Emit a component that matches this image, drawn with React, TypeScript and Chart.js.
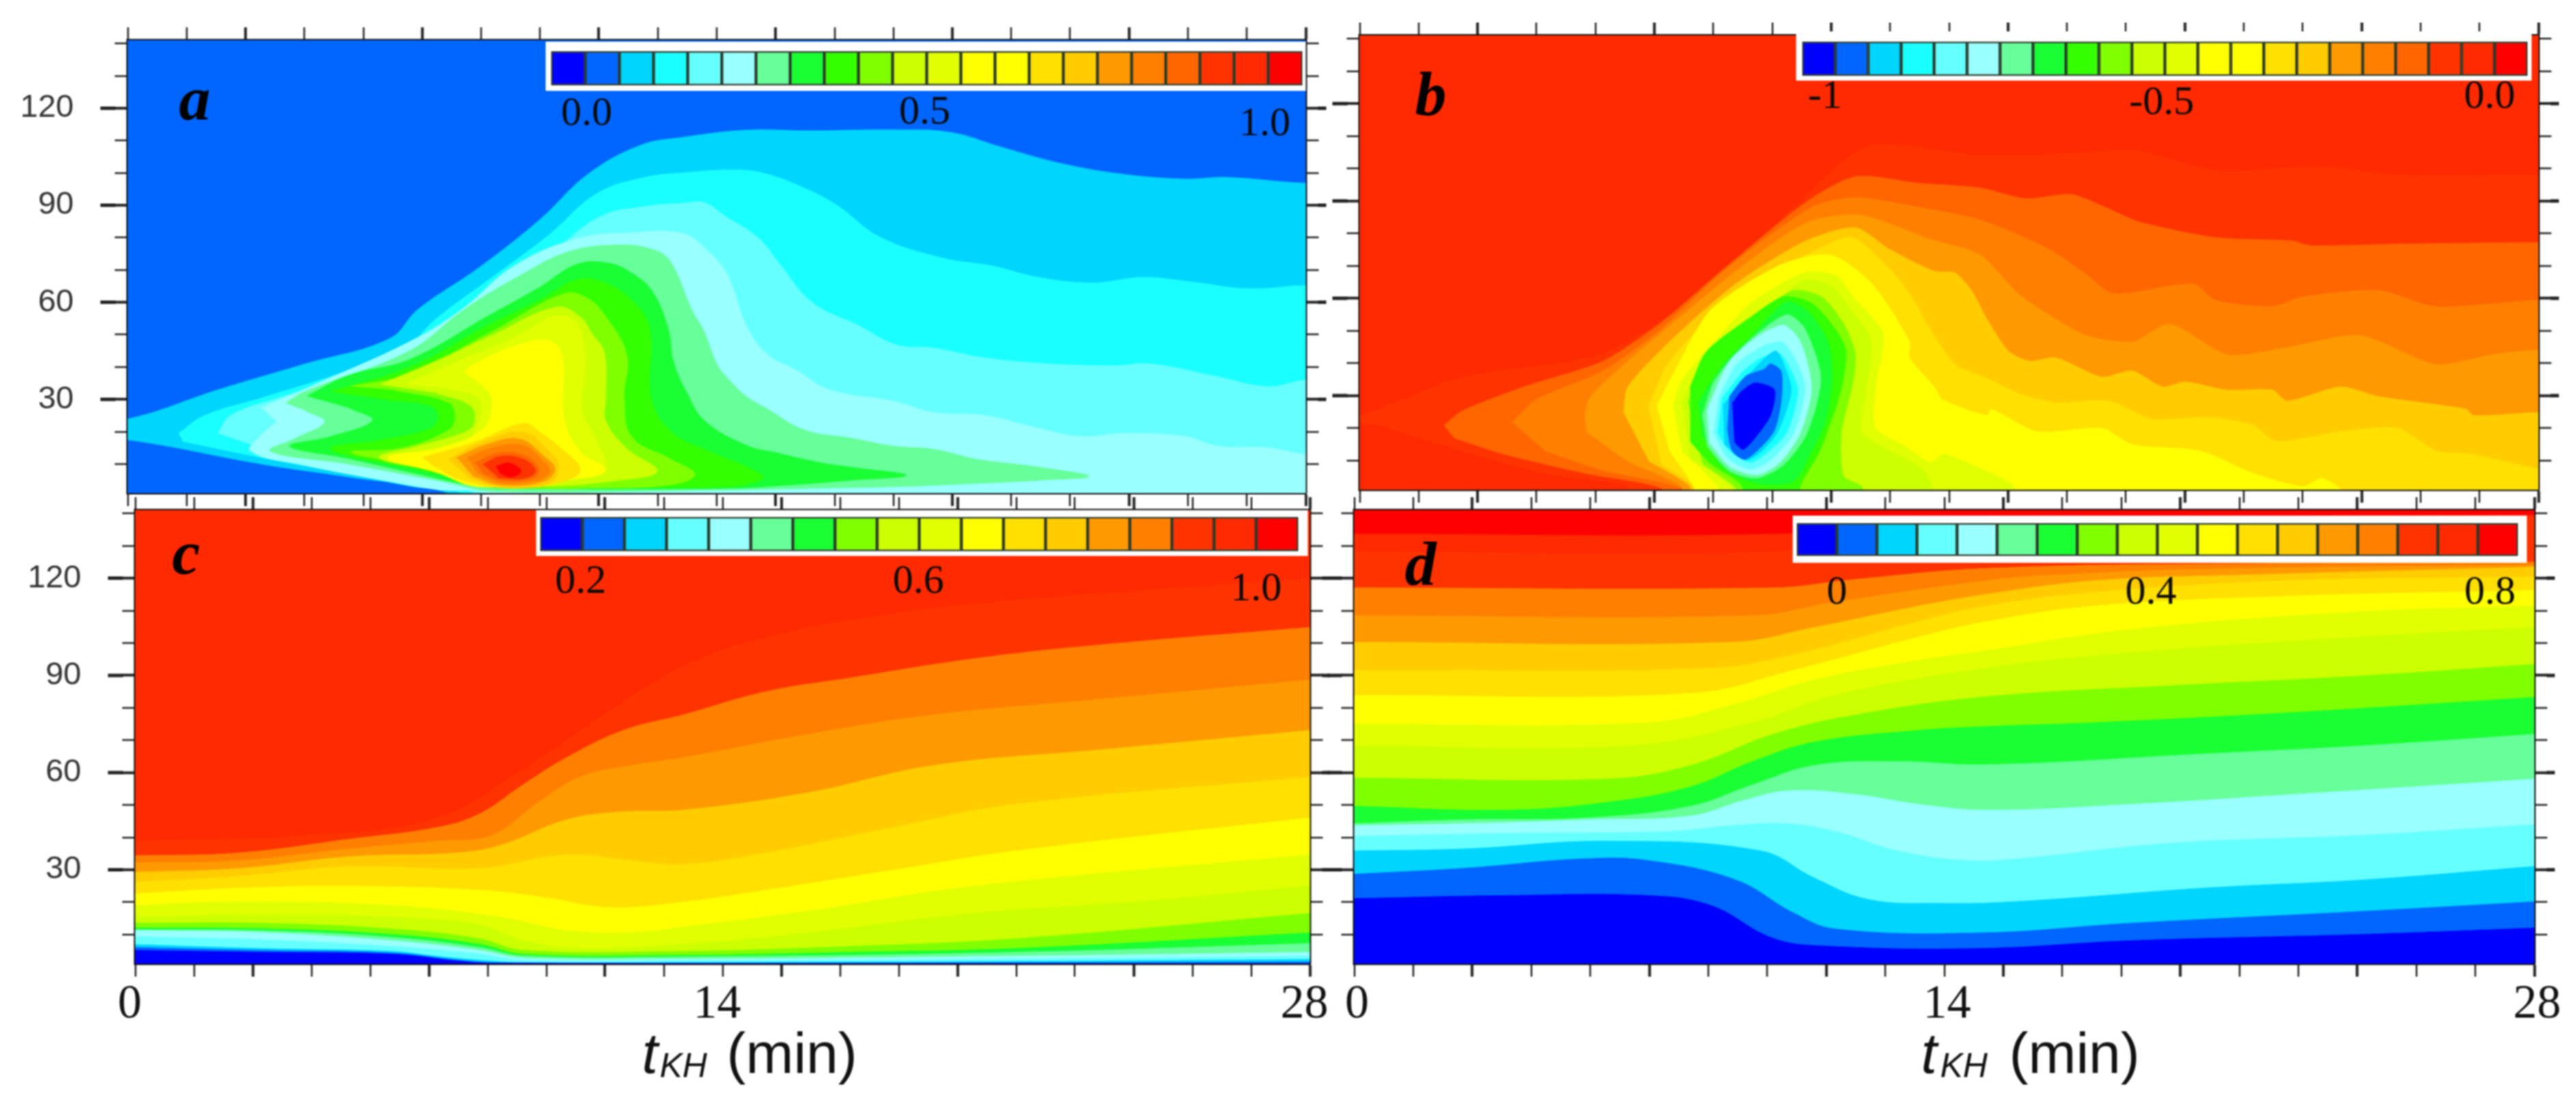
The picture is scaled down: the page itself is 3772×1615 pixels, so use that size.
import React, { useEffect, useRef } from "react";
import { Chart, registerables } from "chart.js";

Chart.register(...registerables);

// ---------- axes ----------
const TIME_TICKS = [0, 1.4, 2.8, 4.2, 5.6, 7, 8.4, 9.8, 11.2, 12.6, 14, 15.4, 16.8, 18.2, 19.6, 21, 22.4, 23.8, 25.2, 26.6, 28];
const TIME_MAJOR = [2.8, 7, 11.2, 15.4, 19.6, 23.8, 28];
const TIME_LABELS = [0, 14, 28];
const Z_TICKS = [10, 20, 30, 40, 50, 60, 70, 80, 90, 100, 110, 120, 130, 140];
const Z_MAJOR = [30, 60, 90, 120];
const Z_MIN = 1;
const Z_MAX = 141;

// ---------- colour bars ----------
const barA = ["#0000ff","#0066ff","#00d5ff","#19ffff","#66ffff","#99ffff","#66ff99","#19ff33","#33ff00","#80ff00","#ccff00","#e0ff00","#ffff00","#ffff00","#ffe000","#ffcc00","#ff9900","#ff8000","#ff6600","#ff3300","#ff2a00","#ff0000"];
const barC = ["#0000ff","#0066ff","#00d5ff","#66ffff","#99ffff","#66ff99","#19ff33","#80ff00","#ccff00","#e0ff00","#ffff00","#ffe000","#ffcc00","#ff9900","#ff8000","#ff3300","#ff2a00","#ff0000"];
const barLabelsA = ["0.0", "0.5", "1.0"];
const barLabelsB = ["-1", "-0.5", "0.0"];
const barLabelsC = ["0.2", "0.6", "1.0"];
const barLabelsD = ["0", "0.4", "0.8"];

// ---------- panel a: contour outlines (minutes, height), outermost first ----------
const a1 = [[-1,23.9],[0,23.9],[2.14,32.9],[4.21,40.9],[6.23,48.8],[6.9,57.8],[8.35,70.7],[9.8,85.6],[10.94,99.6],[12.18,108.5],[13.2,111],[14.7,113.2],[16.2,113],[18.2,113.3],[19.56,112.5],[20.75,108],[22.15,103],[23.64,99.6],[25.13,98.1],[26.12,98.6],[28,96.8],[30,96.8],[30,-4],[7.63,-4],[7.63,1],[5.25,6],[3.18,10],[0,17.5],[-1,17.5]];
const a2 = [[1.21,19.5],[1.83,25],[3.18,30.4],[5.25,38.9],[6.6,45.8],[7.32,54.8],[8.66,67.7],[10,80.7],[11.15,93.6],[12.29,98.6],[13.2,100],[14.5,100.9],[15.2,99.6],[16.2,94.6],[16.9,89.6],[17.87,80.2],[19.36,73.7],[20.56,71.2],[21.65,67.7],[22.94,66],[24.13,67.7],[25.33,66.2],[26.62,64.2],[28,65.2],[30,65.2],[30,-4],[7.94,-4],[7.94,1],[6.8,3],[5.25,7],[3.18,12],[1.31,17]];
const a3 = [[2.14,19.5],[2.45,25],[3.59,30.4],[5.56,38.4],[7.11,47.8],[8.87,64.7],[10.2,76.7],[11.25,86.6],[12.29,89.6],[13.2,90.6],[13.7,90.8],[14.2,86.6],[15,79.7],[15.5,71.7],[16.28,59.8],[17.37,52.8],[18.27,46.8],[19.16,45.8],[20.36,42.8],[21.95,40.9],[23.44,40.4],[24.33,40.9],[25.92,36.9],[27.1,33.9],[28,35.9],[30,35.9],[30,-4],[8.25,-4],[8.25,1],[6.8,5],[5.25,9.6],[3.39,14]];
const a4 = [[3.18,27.4],[4.42,34.4],[6.7,47.8],[7.94,57.8],[9.18,71.2],[10.67,79.6],[11.98,81.5],[13.2,81.2],[13.8,75.7],[14.2,69.7],[14.4,63.7],[14.7,52.8],[15.2,43.9],[15.9,38.9],[16.68,32.9],[18.2,29.4],[19.16,25.9],[20.36,25],[21.65,21],[22.64,18.5],[23.74,19.5],[25.13,18.5],[25.92,15.5],[27.1,15],[28,13],[30,13],[30,-4],[8.56,-4],[8.56,1],[7.42,2],[6.28,4.5],[4.21,9.6],[2.92,14],[3.18,19],[3.54,23]];
const a5 = [[3.75,28.8],[4.21,32.4],[6.7,45],[8,57.8],[9.4,68.8],[10.5,75.7],[11.67,77.7],[12.5,76.2],[12.9,72.5],[13.4,57.8],[13.7,50.8],[14,40.9],[14.3,35.9],[14.7,30.9],[15.2,27],[16.08,20.5],[17.18,18],[18.2,15.5],[19.16,14.5],[20.16,11.5],[21.65,9],[22.84,6.2],[21.65,5],[20.16,4],[18.2,3],[16.2,2.5],[14.2,2],[8.77,1.5],[7.32,5],[5.25,10],[3.39,14],[4,18],[4.68,23],[4.21,26.6]];
const a6 = [[4.26,31],[5.25,37.4],[6.7,42.3],[8.56,55.7],[9.8,64.7],[10.67,71.7],[11.42,72.1],[11.98,69],[12.47,63.3],[12.85,51.5],[12.97,41.6],[13.3,31.7],[13.72,23.2],[14.73,15.6],[15.4,13.5],[16.45,10.4],[17.18,9],[18.5,6.5],[17.18,5],[15.7,3.5],[14.2,2.5],[9.39,2.4],[8.35,3.1],[6.8,7.2],[5.25,11.7],[3.85,15.5],[4.83,18.5],[5.82,23.5],[5.25,27.4]];
const a7 = [[4.83,32.4],[6.7,39.9],[8.56,52.8],[9.8,60.7],[10.67,66.9],[11.3,66.2],[11.98,60.6],[12.41,51.5],[12.44,30.4],[12.92,19.9],[13.72,14.4],[14.77,8.7],[15.1,5.6],[14.2,3],[9.9,3.5],[8.35,4.7],[6.8,8.6],[4.83,14.6],[6.08,17.5],[7.2,21],[7.38,24.7],[7.2,28],[6.08,30]];
const a8 = [[5.3,34],[6.7,37.9],[8.66,51],[10.36,62.6],[10.92,61.3],[11.36,55.6],[11.86,43.7],[11.8,30.4],[11.98,18.4],[12.92,11.4],[13.48,6.8],[12.92,3.6],[11.05,2.6],[9.4,2.9],[8.35,6],[6.8,9.7],[5.3,13.7],[6.49,14.9],[7.63,20.5],[7.78,24.4],[7.63,29],[6.28,33]];
const a9 = [[6,34.6],[7.32,41.8],[8.66,49.8],[10.18,58.5],[10.74,55.6],[11.05,50],[11.33,44.3],[11.36,30.4],[11.36,23.4],[11.86,14.8],[12.58,7.8],[11.67,5],[9.8,3.2],[8.35,5],[7.32,8],[5.97,12],[6.9,15.5],[8.04,20],[8.25,23],[8.15,28],[7.32,32]];
const a10 = [[6.6,34.6],[7.84,41.8],[8.97,47.8],[9.8,53.6],[10.06,55.6],[10.55,54.9],[10.8,50],[10.86,37.4],[10.8,26.8],[11.17,16.3],[11.33,8.5],[10.43,5],[9.18,3.2],[7.1,8.4],[6.5,11.4],[7.84,15],[8.3,21.6],[8.35,30],[7.63,33.2]];
const a11 = [[7.99,38.5],[8.25,41],[9.18,46.3],[9.96,48.3],[10.32,43.8],[10.37,24],[10.74,14],[11.36,8],[10.42,5],[8.35,3],[7.32,7.5],[6.18,12],[7.42,15],[8.46,21],[8.66,30],[8.46,34]];
const a12 = [[7,12],[8.26,16.8],[9.4,22.5],[9.8,19.8],[10.37,14],[10.75,8.4],[10.44,5],[9.2,2.5],[7.95,5],[7.3,9.2]];
const a13 = [[7.63,11.5],[8.44,16.8],[9.4,19.8],[10,14],[10.24,9.2],[10,4],[8.88,2.9],[8.13,5.6]];
const a14 = [[7.82,12],[8.57,16.2],[9.32,17.7],[9.87,12.6],[10.15,8.4],[9.87,4.6],[8.88,3.5],[8.2,6.3]];
const a15 = [[8.07,12],[8.69,15.1],[9.38,15.8],[9.84,11.3],[10.03,7.8],[9.76,5],[8.88,4.2],[8.31,7.1]];
const a16 = [[8.26,10.5],[8.82,13.4],[9.43,12.6],[9.77,8.4],[9.63,5.6],[8.88,5],[8.44,7.1]];
const a17 = [[8.44,9.9],[8.88,12.4],[9.43,11.3],[9.69,7.8],[9.43,5.6],[8.82,5.6]];
const a18 = [[8.75,9.2],[9.06,10.3],[9.35,7.8],[9.12,6],[8.85,7.1]];
const aColors = ["#00d5ff","#19ffff","#66ffff","#99ffff","#66ff99","#19ff33","#33ff00","#80ff00","#ccff00","#e0ff00","#ffff00","#ffe000","#ffcc00","#ff9900","#ff8000","#ff6600","#ff3300","#ff0000"];

// ---------- panel b ----------
const b1 = [[-1,23],[0,23.8],[2.44,35.7],[5.78,43],[8.34,63.9],[10.3,88.1],[12.07,106.9],[14.74,104.1],[17.26,104.9],[18.35,105.9],[20.33,99.5],[22.86,100.5],[24.66,98],[28,98],[30,98],[30,-4],[6.37,-4],[6.37,2],[4.4,6],[2.44,12.9],[0.47,20.8]];
const b2 = [[2,20.8],[2.44,25.3],[3.9,32.7],[5.78,40.6],[7.16,52.5],[8.58,68.3],[10.6,89.6],[11.78,97.5],[13.25,95.5],[14.74,94],[15.82,90.7],[16.9,92],[17.7,88.1],[18.5,83.6],[20.33,78.7],[22.13,77.7],[22.6,76.2],[24.66,76.7],[28,77.2],[30,77.2],[30,-4],[7.16,-4],[7.16,1.5],[5.39,6],[3.42,12],[2.24,17]];
const b3 = [[3.62,21.8],[4.2,28.8],[5.78,37.6],[7.16,50.5],[8.73,69.3],[10.75,88.1],[11.78,91],[13.25,88.1],[14.74,84.1],[16.36,75.2],[17.26,67.3],[17.9,61.4],[19.79,64.4],[20.33,59.4],[21.68,57.4],[22.4,60.4],[24.2,62.4],[25.56,57.4],[28,59.4],[30,59.4],[30,-4],[7.65,-4],[7.65,1.5],[5.78,7],[4.4,13]];
const b4 = [[5.34,23.8],[5.48,29.7],[6.37,40.6],[7.55,53.5],[8.93,68.3],[10.6,83.2],[11.88,85.6],[13.55,78.2],[14.74,73.3],[15.64,61.4],[16.54,53.5],[17.26,48.5],[18.35,46.5],[19.25,52],[20.6,42.6],[21.95,44.6],[23.76,48.5],[25.56,39.6],[26.91,42.6],[28,44.1],[30,44.1],[30,-4],[7.65,-4],[7.65,2],[6.37,9.9],[5.39,18.9]];
const b5 = [[6.27,24.8],[6.37,32.7],[7.36,46.6],[8.93,64.4],[10.6,77.7],[11.78,81.7],[12.57,75.2],[13.65,68.3],[14.14,67.8],[14.53,62.4],[14.9,53.5],[15.42,43.6],[15.91,40.6],[16.54,41.6],[17.63,35.7],[18.35,37.6],[19.07,32.7],[19.61,34.2],[20.6,31.7],[21.68,31.7],[22.04,28.3],[23.3,32.7],[24.2,29.7],[26.28,25.8],[26.46,23.8],[28,24.8],[30,24.8],[30,-4],[7.85,-4],[7.85,2],[6.86,9.9]];
const b6 = [[6.86,26.8],[7.36,40.6],[9.03,62.4],[10.6,73.3],[11.68,78.7],[12.57,69.3],[13.16,59.4],[13.45,52.5],[14.14,39.6],[14.83,35.7],[15,34.7],[15.64,30.7],[16.54,27.8],[17.8,28.3],[18.8,22.8],[20.15,23.3],[21.23,20.8],[21.77,15.9],[23.3,18.9],[24.66,19.9],[25.56,13],[26.37,12],[27.1,10],[28,7.5],[30,7.5],[30,-4],[7.95,-4],[7.95,2],[7.16,9]];
const b7 = [[7.06,26.8],[7.45,36.7],[8.34,56.4],[10,70.3],[11.19,73.3],[12.17,64.4],[13.06,46.6],[13.06,41.6],[13.65,32.7],[13.84,28.8],[14.9,23.8],[15,25.8],[16.09,18.9],[17.63,19.9],[18.35,14.9],[19.97,12.9],[21.23,6],[22.4,2],[22.86,4.5],[23.3,1],[23.3,-4],[7.95,-4],[7.95,1.5],[7.36,13]];
const b8 = [[7.45,26.8],[7.65,34.7],[8.83,52.5],[9.28,58.4],[10.14,65.4],[10.68,68.1],[11.33,66.8],[11.71,60.5],[12.42,49.2],[12.25,32.4],[12.25,19.9],[12.95,14.4],[13.55,9.4],[13.87,11.9],[14.63,8.1],[15.5,2.5],[15.6,-4],[8.53,-4],[8.53,1.5],[7.65,12.9]];
const b9 = [[7.65,27.8],[7.95,34.7],[9.32,51.5],[10.52,65.4],[11.17,63.9],[11.6,57.6],[12.14,47.1],[12.03,32.4],[11.93,18.6],[12.58,13],[13.39,6.7],[13.65,-4],[8.83,-4],[8.83,1.5],[7.85,11]];
const b10 = [[7.8,27.8],[8.14,39.6],[8.83,48.5],[10.25,62.2],[10.96,60.5],[11.49,52.2],[11.77,42.9],[11.71,33.9],[11.44,18.6],[11.49,5.2],[11.93,1.8],[11.93,-4],[8.93,-4],[8.93,1.5],[8.14,9]];
const b11 = [[7.85,32.7],[8.24,43.6],[9.32,54.5],[10.08,60.5],[10.74,58.4],[11.28,50.7],[11.55,43.8],[11.44,32.4],[11.17,21.3],[10.9,12.3],[10.47,2.5],[10.4,-4],[9.32,-4],[9.03,3],[8.34,9],[7.85,15.9]];
const b12 = [[8.04,27.8],[8.63,39.6],[9.32,48.5],[10.14,59],[10.68,55.5],[11.12,46.5],[11.22,36],[11.06,22],[10.68,11.5],[10.3,3.5],[9.42,3],[8.63,7.9],[8.14,17.9]];
const b13 = [[8.14,23.8],[8.43,34.7],[9.22,46.6],[10.14,54.9],[10.57,50.7],[10.95,35.4],[10.63,18.6],[10.08,8.8],[9.44,4.6],[8.79,6.7],[8.25,14.4]];
const b14 = [[8.25,25.5],[8.79,40.8],[9.5,48.6],[10.08,51.7],[10.47,46.5],[10.73,32.4],[10.47,18.6],[9.98,9.4],[9.44,5.6],[8.79,8.1],[8.3,15.7]];
const b15 = [[8.52,29.1],[8.95,39.6],[9.55,45],[10.03,46.5],[10.36,40.8],[10.57,32.4],[10.31,18.6],[9.76,10.2],[9.28,7.3],[8.74,10.8],[8.41,18.6]];
const b16 = [[8.6,29.1],[9.11,37.5],[9.55,41.7],[9.98,42.9],[10.25,37.5],[10.41,31.2],[10.14,18.6],[9.66,12.3],[9.28,9.4],[8.79,12.9],[8.5,18.6]];
const b17 = [[8.63,27],[9.17,35.4],[9.87,43.8],[10.12,38.1],[10.25,31.2],[9.92,18.6],[9.5,12.3],[9.17,10.2],[8.66,15]];
const b18 = [[8.78,29.7],[9.17,36],[9.6,38.1],[9.76,39.8],[10.01,37.5],[10.01,28.3],[9.82,18.6],[9.17,10.4],[8.85,12.9],[8.73,19.9]];
const b19 = [[8.85,27.6],[9.06,31.2],[9.39,33.9],[9.85,31.8],[9.76,24],[9.44,17.8],[9.11,13.4],[8.9,15.7]];
const bColors = ["#ff3300","#ff6600","#ff8000","#ff9900","#ffcc00","#ffe000","#ffff00","#e0ff00","#ccff00","#80ff00","#33ff00","#19ff33","#66ff99","#99ffff","#66ffff","#19ffff","#00d5ff","#0066ff","#0000ff"];

// ---------- panel c: band boundaries, top to bottom ----------
const c1 = [[0,38.8],[4.05,40.6],[7.17,46],[9.24,61],[11.3,79],[13.06,92.8],[15.05,101.8],[18.04,109],[21,113.2],[24,116.2],[28,119.8]];
const c2 = [[0,34.3],[2.49,35.2],[5.09,39.4],[7.17,43],[8.2,47.2],[9.24,56.2],[10.28,64.6],[11.63,73],[13.06,77.8],[15.05,85],[17.04,89.2],[20.03,95.2],[23,99.4],[28,104.8]];
const c3 = [[0,32.1],[2.49,32.8],[5.09,36.4],[7.17,38.8],[8.5,40.6],[9.55,50.2],[10.6,58.6],[11.84,62.2],[13.06,64.6],[16.05,71.8],[19.04,77.8],[23,82.6],[28,88.6]];
const c4 = [[0,29.2],[2.49,30.4],[5.09,34],[7.68,35.2],[8.72,37.6],[10.28,45.4],[11.53,47.8],[13.06,48.4],[16.05,53.8],[19.04,62.2],[23,67],[28,73]];
const c5 = [[0,26.2],[2.49,28],[5.09,31],[8.2,30.4],[10.28,34.6],[11.84,32.8],[13.06,31.6],[15.05,35.2],[18.04,43],[21,50.2],[28,58.6]];
const c6 = [[0,22.6],[2.49,24.3],[5.09,24.9],[8.2,23.7],[9.76,21.4],[11.32,18.3],[13.06,20],[15.05,23.7],[18.04,29.8],[21,35.8],[28,46]];
const c7 = [[0,18.9],[2.49,20.1],[6.13,18.9],[8.72,15.3],[10.28,11.2],[11.84,10.6],[13.06,12.3],[16.05,17.2],[20,24.9],[28,34.6]];
const c8 = [[0,15.3],[3,15.9],[6.13,15.3],[8.2,12.9],[9.24,8.1],[10.49,5.7],[13.06,6.9],[16.05,10.5],[20,16.5],[24,20.2],[28,25]];
const c9 = [[0,13.5],[3,13.5],[6.13,11.7],[8.2,8.7],[9.24,5.1],[13.06,4.8],[17,6.3],[21,8.7],[28,16.5]];
const c10 = [[0,12],[3,11.8],[6.13,10],[8.2,7],[9.24,3.9],[13.06,3.6],[17,4.5],[21,5.7],[28,10.5]];
const c11 = [[0,11.5],[3,11.2],[6.13,9.1],[8.2,6],[9.24,3.4],[13.06,3.1],[21,4.5],[28,7.2]];
const c12 = [[0,11.2],[3,10.6],[6.13,8.1],[8.2,5.1],[9.24,2.7],[13.06,2.4],[21,3.3],[28,4.5]];
const c13 = [[0,9.3],[3,8.4],[6.13,6.3],[8.2,4],[9.24,2.1],[13.06,1.9],[21,2.4],[28,3.3]];
const c14 = [[0,6.9],[3,5.7],[6.13,4.8],[7.17,3.3],[8.2,2.1],[9.24,1.3],[13.06,1.4],[21,1.7],[28,2.3]];
const c15 = [[0,6],[3,5.1],[6.13,4.3],[7.7,2.1],[8.72,1.2],[13,1.1],[28,1.5]];
const c16 = [[0,5.1],[3,4.5],[6.13,3.9],[7.7,1.8],[8.5,1.2],[28,1]];
const cColors = ["#ff3300","#ff8000","#ff9900","#ffcc00","#ffe000","#ffff00","#e0ff00","#ccff00","#80ff00","#19ff33","#66ff99","#99ffff","#66ffff","#00d5ff","#0066ff","#0000ff"];

// ---------- panel d ----------
const d1 = [[0,133.6],[10,133.6],[13,137],[15,138.5],[28,139.5]];
const d2 = [[0,128.2],[10,128.2],[13,133],[28,138.8]];
const d3 = [[0,117],[9.94,117],[11.8,119.5],[15,123],[21,124.5],[28,125]];
const d4 = [[0,108.4],[9.45,108.4],[11.41,112.6],[15,119.2],[16.66,121],[20.3,122.8],[28,124]];
const d5 = [[0,100.2],[8.96,100.2],[10.92,104.8],[13.4,111.4],[15,115],[17.56,119.2],[21.2,121],[28,123.4]];
const d6 = [[0,91.6],[8.47,92.2],[10.43,96.4],[13.38,106.6],[15,111.4],[17.56,115.6],[22,119.2],[28,120.4]];
const d7 = [[0,83.8],[7.98,84.4],[10.43,91.6],[13.38,101.8],[15,106.6],[17.56,111.4],[22.1,114.4],[28,116.2]];
const d8 = [[0,74.8],[7,75.4],[8.96,80.8],[10.92,88.6],[13.38,94.6],[15,97.6],[18.46,104.2],[23.87,109.6],[28,111.4]];
const d9 = [[0,68.2],[6.5,68.2],[9.45,75.4],[11.41,83.8],[15,92.2],[18.46,97],[23.87,101.8],[28,104.8]];
const d10 = [[0,58.3],[6,58],[7.98,62.2],[9.94,71.8],[11.9,77.8],[15,83.4],[19.4,86.8],[23.87,89.8],[28,93.4]];
const d11 = [[0,49.6],[3.56,48.4],[6,50.8],[7.98,55.6],[9.45,63.4],[10.92,69.4],[13.38,73],[15,74.2],[17.56,75.4],[22.1,78.4],[28,83.2]];
const d12 = [[0,44.2],[2.57,45.4],[5.52,46],[7.98,49.6],[9.45,56.2],[10.92,62.2],[12.89,63.4],[15,62.4],[20.26,65.8],[23.87,68.2],[28,71.8]];
const d13 = [[0,43.6],[2.57,44.2],[5.52,45.4],[7.98,46.6],[9.25,51.4],[10.33,54.4],[11.9,53.2],[13.38,50.2],[15,48.4],[18.46,50.2],[22.97,53.8],[28,58]];
const d14 = [[0,40.3],[3.56,41.2],[7.49,41.8],[8.96,43.6],[10.24,44.2],[11.41,41.8],[12.89,35.8],[14.56,32.8],[15.76,33.4],[19.4,38.2],[23.87,40.6],[28,43.9]];
const d15 = [[0,35.8],[2.57,36.4],[6,38.8],[9.65,35.8],[10.92,27.4],[12.2,20.8],[13.87,19.6],[15.76,20.2],[20.26,24.4],[23.87,26.8],[28,31]];
const d16 = [[0,28.6],[2.57,30.4],[5.52,33.4],[6.99,32.8],[9.06,26.8],[10.43,16.6],[11.41,11.7],[14.86,10.5],[18.46,13.5],[23.87,17.1],[28,20.1]];
const d17 = [[0,21.1],[3.56,22],[6.99,22],[8.47,18.9],[9.94,8.8],[11.22,6.4],[14.86,5.7],[18.46,8.1],[23.87,10],[28,12]];
const dColors = ["#ff2a00","#ff3300","#ff8000","#ff9900","#ffcc00","#ffe000","#ffff00","#e0ff00","#ccff00","#80ff00","#19ff33","#66ff99","#99ffff","#66ffff","#00d5ff","#0066ff","#0000ff"];

const topLine = [[0, 141], [28, 141]];

// ---------- layout and styling of each panel ----------
const SERIF = '"Liberation Serif"';
const SANS = '"Liberation Sans"';
const INK = "#141414";

type PanelSpec = {
  letter: string; letterX: number; letterY: number;
  rect: number[]; marginLeft: number; marginBottom: number;
  background: string; lines: number[][][]; colors: string[]; fill: string; tension: number;
  zLabels: boolean; timeLabels: boolean; labelShift: number; titleX?: number[];
};
const panels: PanelSpec[] = [
  { letter: "a", letterX: 75, letterY: 116, rect: [187, 59, 1912, 722], marginLeft: 187, marginBottom: 40, background: "#0066ff", fill: "shape", tension: 0.4,
    lines: [a1,a2,a3,a4,a5,a6,a7,a8,a9,a10,a11,a12,a13,a14,a15,a16,a17,a18], colors: aColors, zLabels: true, timeLabels: false, labelShift: 0 },
  { letter: "b", letterX: 81, letterY: 116, rect: [1991, 52, 3717, 717], marginLeft: 60, marginBottom: 40, background: "#ff2a00", fill: "shape", tension: 0.25,
    lines: [b1,b2,b3,b4,b5,b6,b7,b8,b9,b10,b11,b12,b13,b14,b15,b16,b17,b18,b19], colors: bColors, zLabels: false, timeLabels: false, labelShift: 0 },
  { letter: "c", letterX: 54, letterY: 93, rect: [198, 747, 1918, 1411], marginLeft: 198, marginBottom: 200, background: "#ff2a00", fill: "start", tension: 0.4,
    lines: [c1,c2,c3,c4,c5,c6,c7,c8,c9,c10,c11,c12,c13,c14,c15,c16], colors: cColors, zLabels: true, timeLabels: true, labelShift: -8, titleX: [742, 768, 866] },
  { letter: "d", letterX: 74, letterY: 109, rect: [1983, 747, 3711, 1411], marginLeft: 60, marginBottom: 200, background: "#ff0000", fill: "start", tension: 0.4,
    lines: [d1,d2,d3,d4,d5,d6,d7,d8,d9,d10,d11,d12,d13,d14,d15,d16,d17], colors: dColors, zLabels: false, timeLabels: true, labelShift: 4, titleX: [830, 858, 959] },
];

type BarSpec = {
  colors: string[]; labels: string[]; labelAt: number[]; labelDrop: number[];
  frame: number[]; swatches: number[];
};
const bars: BarSpec[] = [
  { colors: barA, labels: barLabelsA, labelAt: [0.54, 10.44, 20.4], labelDrop: [42, 40, 57], frame: [799, 61, 1912, 133], swatches: [807, 75, 1907, 125] },
  { colors: barA, labels: barLabelsB, labelAt: [0.19, 10.4, 20.35], labelDrop: [31, 40, 31], frame: [2630, 46, 3707, 118], swatches: [2639, 61, 3701, 111] },
  { colors: barC, labels: barLabelsC, labelAt: [0.46, 8.48, 16.5], labelDrop: [45, 45, 56], frame: [785, 747, 1915, 814], swatches: [791, 757, 1901, 807] },
  { colors: barC, labels: barLabelsD, labelAt: [0.5, 8.34, 16.8], labelDrop: [54, 54, 54], frame: [2625, 755, 3700, 824], swatches: [2631, 766, 3687, 814] },
];

function Panel({ spec }: { spec: PanelSpec }) {
  const ref = useRef<HTMLCanvasElement>(null);
  const [L, T, R, B] = spec.rect;
  const marginTop = 40, marginRight = 60;
  const width = spec.marginLeft + (R - L) + marginRight;
  const height = marginTop + (B - T) + spec.marginBottom;
  useEffect(() => {
    const toPoints = (line: number[][]) => line.map(([x, y]) => ({ x, y }));
    const bands = spec.lines.map((line, i) => ({
      data: toPoints(line), backgroundColor: spec.colors[i], borderColor: spec.colors[i],
      borderWidth: 1, fill: spec.fill, tension: spec.tension, showLine: true, pointRadius: 0,
    }));
    const base = {
      data: toPoints(topLine), backgroundColor: spec.background, borderColor: spec.background,
      borderWidth: 1, fill: "start", tension: 0, showLine: true, pointRadius: 0,
    };
    const datasets = [...bands.reverse(), base];

    const border = { display: true, color: INK, width: 4 };
    const clearPadding = (s: any) => { s.paddingTop = 0; s.paddingBottom = 0; s.paddingLeft = 0; s.paddingRight = 0; };
    const xAxis = (position: string, size: number, showLabels: boolean) => ({
      type: "linear", position, min: 0, max: 28,
      border,
      grid: {
        drawOnChartArea: false, tickLength: 19, tickColor: "#222",
        tickWidth: (c: any) => (TIME_MAJOR.includes(c.tick?.value) ? 4 : 2.5),
      },
      afterBuildTicks: (s: any) => { s.ticks = TIME_TICKS.map((value) => ({ value })); },
      afterFit: (s: any) => { s.height = size; clearPadding(s); },
      ticks: {
        display: showLabels, autoSkip: false, maxRotation: 0, padding: 0, color: "#111",
        labelOffset: spec.labelShift,
        font: { family: SERIF, size: 70 },
        callback: (v: number) => (TIME_LABELS.includes(v) ? String(v) : ""),
      },
    });
    const zAxis = (position: string, size: number, showLabels: boolean) => ({
      type: "linear", position, min: Z_MIN, max: Z_MAX,
      border,
      grid: {
        drawOnChartArea: false, tickLength: 19, tickColor: "#222",
        tickWidth: (c: any) => (Z_MAJOR.includes(c.tick?.value) ? 4 : 2.5),
      },
      afterBuildTicks: (s: any) => { s.ticks = Z_TICKS.map((value) => ({ value })); },
      afterFit: (s: any) => { s.width = size; clearPadding(s); },
      ticks: {
        display: showLabels, autoSkip: false, padding: 60, color: "#333",
        font: { family: SANS, size: 47 },
        callback: (v: number) => (Z_MAJOR.includes(v) ? String(v) : ""),
      },
    });

    const decorations = {
      id: "decorations",
      afterDraw(chart: any) {
        const { ctx, chartArea, scales } = chart;
        ctx.save();
        // longer major ticks on both height axes
        ctx.strokeStyle = "#222";
        ctx.lineWidth = 5;
        for (const v of Z_MAJOR) {
          const y = scales.y.getPixelForValue(v);
          ctx.beginPath();
          ctx.moveTo(chartArea.left - 40, y); ctx.lineTo(chartArea.left - 18, y);
          ctx.moveTo(chartArea.right + 18, y); ctx.lineTo(chartArea.right + 30, y);
          ctx.stroke();
        }
        // panel letter
        ctx.fillStyle = "#000";
        ctx.font = `italic bold 92px ${SERIF}`;
        ctx.textBaseline = "alphabetic";
        ctx.textAlign = "left";
        ctx.fillText(spec.letter, chartArea.left + spec.letterX, chartArea.top + spec.letterY);
        // axis title with subscript
        if (spec.titleX) {
          const baseline = chartArea.bottom + 160;
          ctx.fillStyle = "#111";
          ctx.font = `italic 84px ${SANS}`;
          ctx.fillText("t", chartArea.left + spec.titleX[0], baseline);
          ctx.font = `italic 50px ${SANS}`;
          ctx.fillText("KH", chartArea.left + spec.titleX[1], baseline + 6);
          ctx.font = `84px ${SANS}`;
          ctx.fillText("(min)", chartArea.left + spec.titleX[2], baseline);
        }
        ctx.restore();
      },
    };

    const chart = new Chart(ref.current as HTMLCanvasElement, {
      type: "scatter",
      data: { datasets },
      options: {
        animation: false, responsive: false, devicePixelRatio: 1,
        layout: { padding: 0, autoPadding: false },
        plugins: { legend: { display: false }, tooltip: { enabled: false }, title: { display: false } },
        scales: {
          x: xAxis("bottom", spec.marginBottom, spec.timeLabels),
          x2: xAxis("top", marginTop, false),
          y: zAxis("left", spec.marginLeft, spec.zLabels),
          y2: zAxis("right", marginRight, false),
        },
      },
      plugins: [decorations],
    } as any);
    return () => chart.destroy();
  }, []);
  return (
    <canvas ref={ref} width={width} height={height}
      style={{ position: "absolute", left: L - spec.marginLeft, top: T - marginTop, width, height }} />
  );
}

function ColorBar({ spec }: { spec: BarSpec }) {
  const ref = useRef<HTMLCanvasElement>(null);
  const [fL, fT, fR, fB] = spec.frame;
  const [sL, sT, sR, sB] = spec.swatches;
  const width = fR - fL;
  const height = sB - fT + 90;
  useEffect(() => {
    const frame = {
      id: "frame",
      beforeDraw(chart: any) {
        const { ctx } = chart;
        ctx.save();
        ctx.fillStyle = "#ffffff";
        ctx.fillRect(0, 0, width, fB - fT);
        ctx.restore();
      },
      afterDraw(chart: any) {
        const { ctx, chartArea, scales } = chart;
        ctx.save();
        ctx.fillStyle = "#0a0a0a";
        ctx.font = `60px ${SERIF}`;
        ctx.textAlign = "center";
        ctx.textBaseline = "middle";
        spec.labels.forEach((text, i) => {
          ctx.fillText(text, scales.x.getPixelForValue(spec.labelAt[i]), chartArea.bottom + spec.labelDrop[i]);
        });
        ctx.restore();
      },
    };
    const chart = new Chart(ref.current as HTMLCanvasElement, {
      type: "bar",
      data: {
        labels: spec.colors.map((_, i) => String(i)),
        datasets: [{
          data: spec.colors.map(() => 1), backgroundColor: spec.colors,
          borderColor: "#2b3a2b", borderWidth: 2.5, borderSkipped: false,
          barPercentage: 1, categoryPercentage: 1,
        }],
      },
      options: {
        animation: false, responsive: false, devicePixelRatio: 1,
        layout: { padding: { left: sL - fL, right: fR - sR, top: sT - fT, bottom: height - (sB - fT) }, autoPadding: false },
        plugins: { legend: { display: false }, tooltip: { enabled: false } },
        scales: {
          x: { type: "category", display: false },
          y: { type: "linear", display: false, min: 0, max: 1 },
        },
      },
      plugins: [frame],
    } as any);
    return () => chart.destroy();
  }, []);
  return (
    <canvas ref={ref} width={width} height={height}
      style={{ position: "absolute", left: fL, top: fT, width, height }} />
  );
}

export default function App() {
  return (
    <div style={{ position: "absolute", left: 0, top: 0, width: 3772, height: 1615, background: "#fff", overflow: "hidden", filter: "blur(1px)" }}>
      {panels.map((p) => <Panel key={p.letter} spec={p} />)}
      {bars.map((b, i) => <ColorBar key={i} spec={b} />)}
    </div>
  );
}
